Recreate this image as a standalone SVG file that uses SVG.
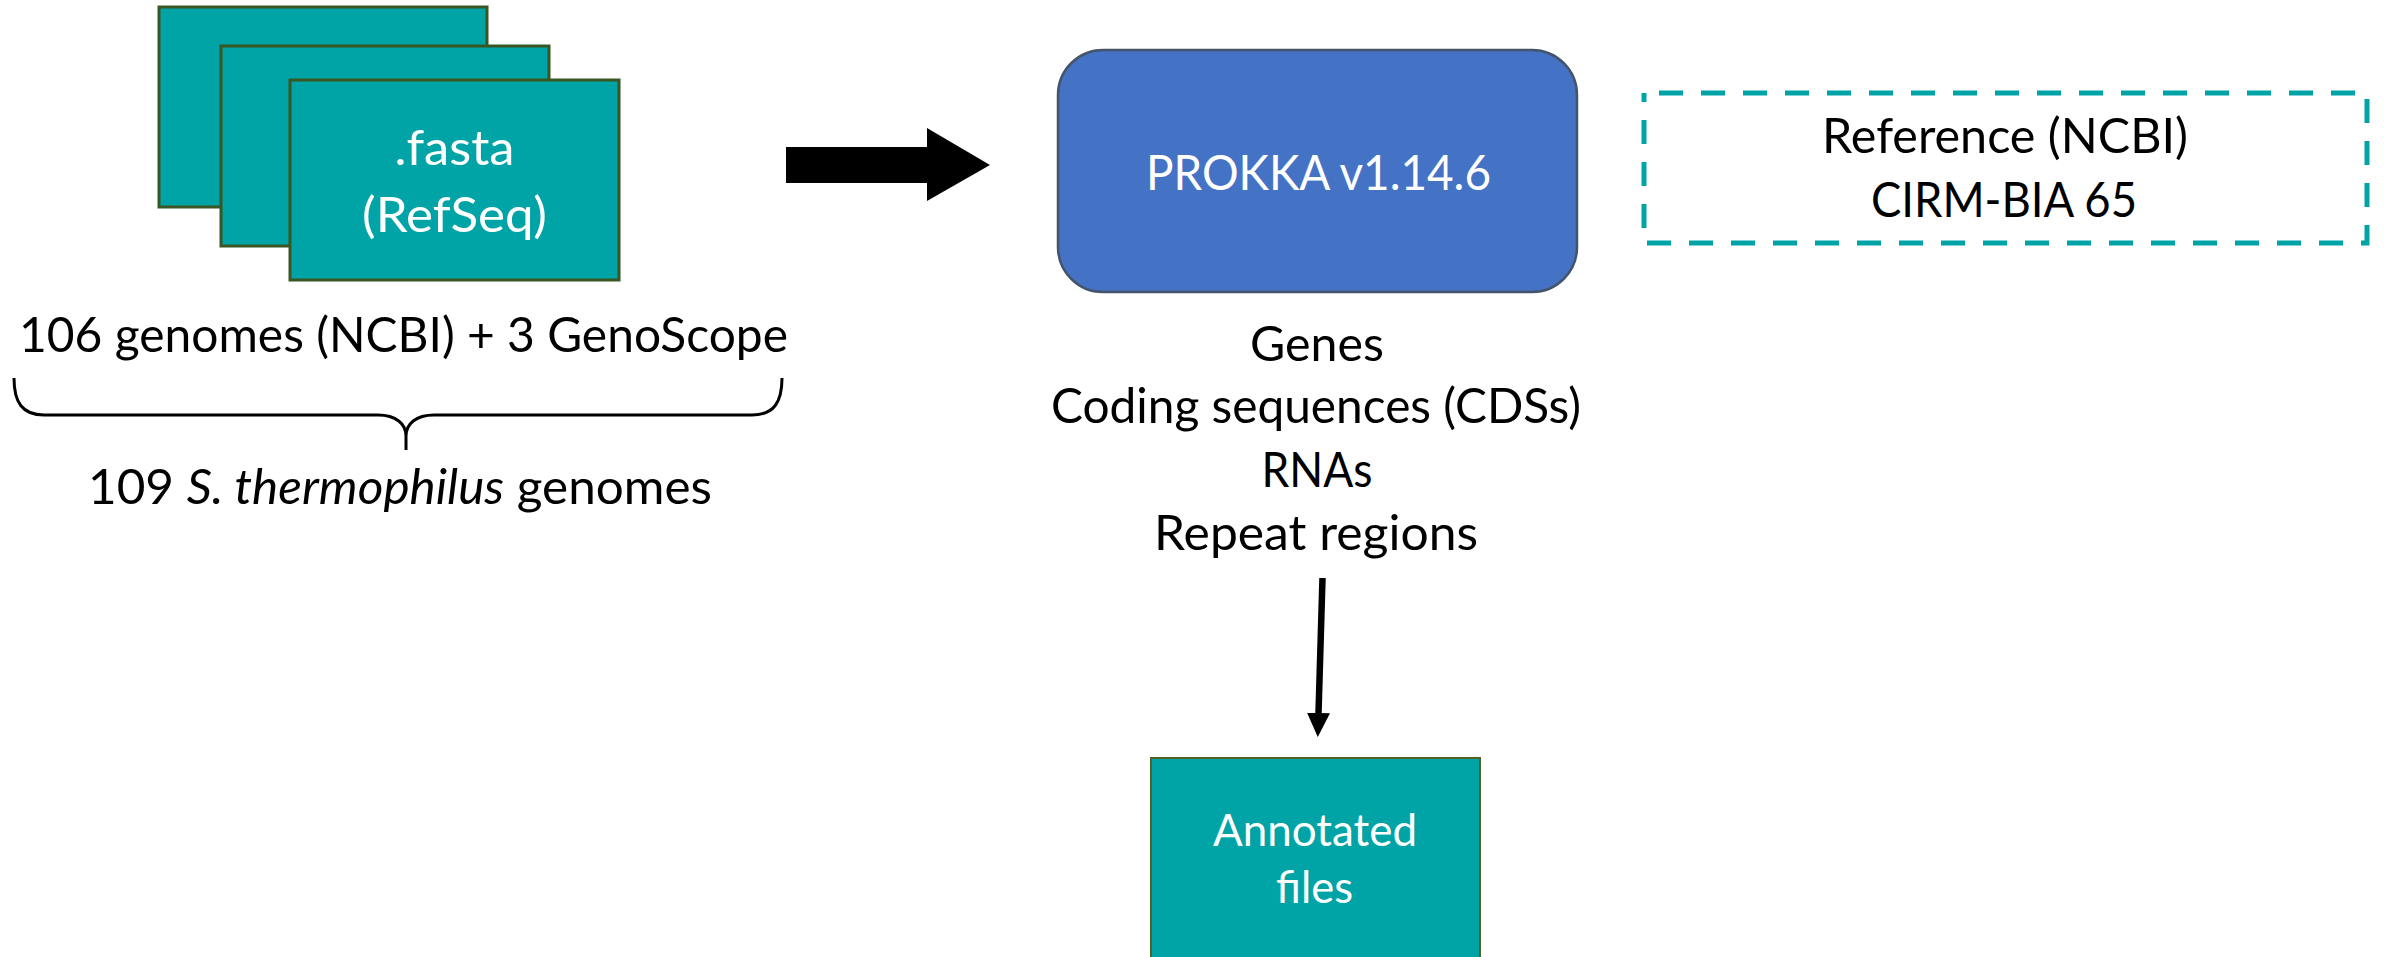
<svg xmlns="http://www.w3.org/2000/svg" width="2384" height="957" viewBox="0 0 2384 957">
<defs>
<style>
.teal{fill:#00A4A6;stroke:#385723;stroke-width:3}
.wt{font-family:Lato,"Open Sans","Liberation Sans",sans-serif;fill:#ffffff;text-anchor:middle}
.bt{font-family:Lato,"Open Sans","Liberation Sans",sans-serif;fill:#000000;text-anchor:middle;font-size:49px}
.conn{fill:none;stroke:#000;}
</style>
<marker id="ah" markerUnits="userSpaceOnUse" markerWidth="24" markerHeight="23" refX="0" refY="11.5" orient="auto">
<path d="M0,0 L24,11.5 L0,23 Z" fill="#000"/>
</marker>
</defs>
<rect x="0" y="0" width="2384" height="957" fill="#ffffff"/>

<g id="fasta-stack">
<rect class="teal" x="159" y="7" width="328" height="200"/>
<rect class="teal" x="221" y="46" width="328" height="200"/>
<rect class="teal" x="290" y="80" width="329" height="200"/>
<text class="wt" x="454.5" y="165" font-size="49" textLength="120" lengthAdjust="spacingAndGlyphs">.fasta</text>
<text class="wt" x="454.5" y="232" font-size="49" textLength="185" lengthAdjust="spacingAndGlyphs">(RefSeq)</text>
</g>

<g id="genomes-label">
<text class="bt" x="403.5" y="352" textLength="769" lengthAdjust="spacingAndGlyphs">106 genomes (NCBI) + 3 GenoScope</text>
<path class="conn" stroke-width="3" d="M14,378 C14,402 22,415 44,415 L378,415 C396,415 406,424 406,436 L406,450 M406,436 C406,424 416,415 434,415 L752,415 C774,415 782,402 782,378"/>
<text class="bt" x="400" y="504" textLength="624" lengthAdjust="spacingAndGlyphs">109 <tspan font-style="italic">S. thermophilus</tspan> genomes</text>
</g>

<g id="prokka">
<rect x="1058" y="50" width="519" height="242" rx="45" ry="45" fill="#4472C4" stroke="#44546A" stroke-width="2.5"/>
<text class="wt" x="1318.5" y="190" font-size="49" textLength="345" lengthAdjust="spacingAndGlyphs">PROKKA v1.14.6</text>
</g>

<g id="prokka-outputs">
<text class="bt" x="1317" y="361" textLength="134" lengthAdjust="spacingAndGlyphs">Genes</text>
<text class="bt" x="1316" y="423" textLength="530" lengthAdjust="spacingAndGlyphs">Coding sequences (CDSs)</text>
<text class="bt" x="1317" y="487" textLength="111" lengthAdjust="spacingAndGlyphs">RNAs</text>
<text class="bt" x="1316" y="550" textLength="324" lengthAdjust="spacingAndGlyphs">Repeat regions</text>
</g>

<g id="reference">
<rect x="1644" y="93" width="723" height="150" fill="none" stroke="#00A4A6" stroke-width="5" stroke-dasharray="24 18" stroke-dashoffset="27"/>
<text class="bt" x="2005" y="153" textLength="366" lengthAdjust="spacingAndGlyphs">Reference (NCBI)</text>
<text class="bt" x="2004" y="217" textLength="266" lengthAdjust="spacingAndGlyphs">CIRM-BIA 65</text>
</g>

<g id="annotated">
<rect x="1151" y="758" width="329" height="220" fill="#00A4A6" stroke="#4F6228" stroke-width="2"/>
<text class="wt" x="1315" y="846" font-size="45" textLength="204" lengthAdjust="spacingAndGlyphs">Annotated</text>
<text class="wt" x="1314.5" y="903" font-size="45" textLength="77" lengthAdjust="spacingAndGlyphs">files</text>
</g>

<g id="connectors">
<polygon points="786,147 927,147 927,128 990,165 927,201 927,183 786,183" fill="#000000"/>
<line class="conn" x1="1322.5" y1="578" x2="1318.5" y2="713" stroke-width="6.5" marker-end="url(#ah)"/>
</g>
</svg>
